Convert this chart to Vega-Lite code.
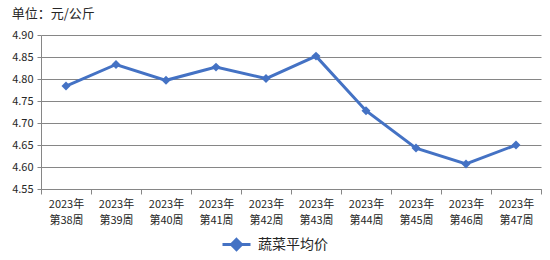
{
  "$schema": "https://vega.github.io/schema/vega-lite/v6.json",
  "width": 500,
  "height": 154,
  "autosize": "none",
  "padding": {"left": 41, "top": 35, "right": 9, "bottom": 71},
  "background": "#ffffff",
  "config": {
    "view": {"stroke": null},
    "font": "Noto Sans CJK SC"
  },
  "title": {
    "text": "单位：元/公斤",
    "anchor": "start",
    "frame": "bounds",
    "fontSize": 13,
    "fontWeight": "normal",
    "color": "#262626",
    "offset": 8
  },
  "data": {
    "values": [
      {"week": "2023年第38周", "price": 4.784, "series": "蔬菜平均价"},
      {"week": "2023年第39周", "price": 4.833, "series": "蔬菜平均价"},
      {"week": "2023年第40周", "price": 4.797, "series": "蔬菜平均价"},
      {"week": "2023年第41周", "price": 4.827, "series": "蔬菜平均价"},
      {"week": "2023年第42周", "price": 4.801, "series": "蔬菜平均价"},
      {"week": "2023年第43周", "price": 4.852, "series": "蔬菜平均价"},
      {"week": "2023年第44周", "price": 4.728, "series": "蔬菜平均价"},
      {"week": "2023年第45周", "price": 4.643, "series": "蔬菜平均价"},
      {"week": "2023年第46周", "price": 4.607, "series": "蔬菜平均价"},
      {"week": "2023年第47周", "price": 4.650, "series": "蔬菜平均价"}
    ]
  },
  "encoding": {
    "x": {
      "field": "week",
      "type": "nominal",
      "sort": null,
      "scale": {"paddingInner": 0, "paddingOuter": 0},
      "axis": {
        "title": null,
        "tickBand": "extent",
        "labelAngle": 0,
        "labelExpr": "[slice(datum.label,0,5), slice(datum.label,5)]",
        "labelLineHeight": 16,
        "labelFontSize": 11,
        "labelColor": "#262626",
        "labelPadding": 4,
        "tickSize": 5,
        "tickColor": "#868686",
        "domainColor": "#868686",
        "grid": false
      }
    },
    "y": {
      "field": "price",
      "type": "quantitative",
      "scale": {"domain": [4.55, 4.9], "zero": false, "nice": false},
      "axis": {
        "title": null,
        "values": [4.55, 4.6, 4.65, 4.7, 4.75, 4.8, 4.85, 4.9],
        "format": ".2f",
        "labelFontSize": 11,
        "labelColor": "#262626",
        "labelPadding": 4,
        "tickSize": 4,
        "tickColor": "#868686",
        "domainColor": "#868686",
        "gridColor": "#868686",
        "grid": true
      }
    },
    "color": {
      "field": "series",
      "type": "nominal",
      "scale": {"range": ["#4472C4"]},
      "legend": {
        "title": null,
        "orient": "none",
        "legendX": 180,
        "legendY": 194,
        "symbolType": "M-1,0L1,0M0,-0.36L0.36,0L0,0.36L-0.36,0Z",
        "symbolSize": 784,
        "symbolStrokeWidth": 3,
        "symbolFillColor": "#4472C4",
        "symbolStrokeColor": "#4472C4",
        "labelFontSize": 14,
        "labelColor": "#262626",
        "labelOffset": 6
      }
    }
  },
  "layer": [
    {"mark": {"type": "line", "strokeWidth": 3}},
    {"mark": {"type": "point", "shape": "diamond", "filled": true, "size": 80, "opacity": 1}}
  ]
}
